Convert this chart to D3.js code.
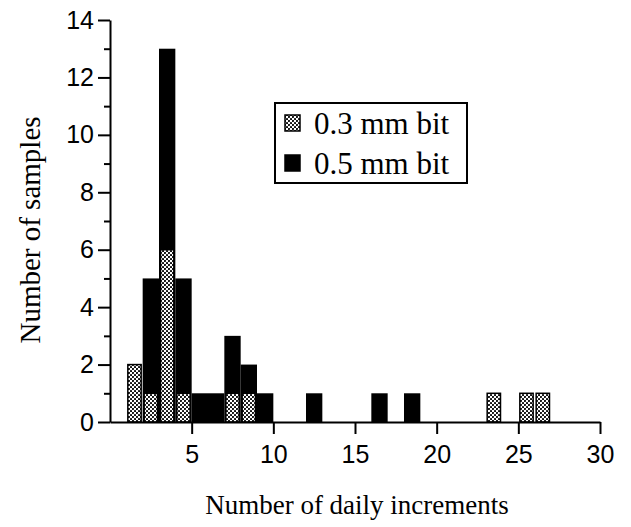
<!DOCTYPE html>
<html>
<head>
<meta charset="utf-8">
<script src="https://cdn.jsdelivr.net/npm/d3@7"></script>
<style>
  body { margin: 0; background: #fff; }
  .tick text { font-family: "Liberation Sans", Arial, sans-serif; font-size: 25px; fill: #000; }
</style>
</head>
<body>
<script>
// bin start values (bins are 1 unit wide)
var bins = [1, 2, 3, 4, 5, 6, 7, 8, 9, 12, 16, 18, 23, 25, 26];
var bit03 = [2, 1, 6, 1, 0, 0, 1, 1, 0, 0, 0, 0, 1, 1, 1];
var bit05 = [0, 4, 7, 4, 1, 1, 2, 1, 1, 1, 1, 1, 0, 0, 0];
var xTicks = [5, 10, 15, 20, 25, 30];
var yMajor = [0, 2, 4, 6, 8, 10, 12, 14];
var yMinor = [1, 3, 5, 7, 9, 11, 13];
var seriesNames = ["0.3 mm bit", "0.5 mm bit"];

var svg = d3.select("body").append("svg")
            .attr("width", 631)
            .attr("height", 527);

// dotted fill for 0.3 mm bars
var pat = svg.append("defs").append("pattern")
             .attr("id", "dots")
             .attr("patternUnits", "userSpaceOnUse")
             .attr("width", 4)
             .attr("height", 4);
pat.append("rect").attr("width", 4).attr("height", 4).attr("fill", "#fff");
pat.append("circle").attr("cx", 1).attr("cy", 1).attr("r", 1.05).attr("fill", "#000");
pat.append("circle").attr("cx", 3).attr("cy", 3).attr("r", 1.05).attr("fill", "#000");

var x = d3.scaleLinear().domain([0, 30]).range([110, 600]);
var y = d3.scaleLinear().domain([0, 14]).range([422, 20]);

var data = bins.map(function (b, i) {
  return { start: b, a: bit03[i], b: bit05[i] };
});

// black bars = total (0.3 + 0.5)
svg.selectAll(".black").data(data.filter(function (d) { return d.b > 0; }))
   .enter().append("rect")
   .attr("x", function (d) { return x(d.start); })
   .attr("y", function (d) { return y(d.a + d.b); })
   .attr("width", function (d) { return x(d.start + 1) - x(d.start); })
   .attr("height", function (d) { return y(0) - y(d.a + d.b); })
   .attr("fill", "#000");

// dotted bars on the bottom
svg.selectAll(".gray").data(data.filter(function (d) { return d.a > 0; }))
   .enter().append("rect")
   .attr("x", function (d) { return x(d.start) + 1.5; })
   .attr("y", function (d) { return y(d.a); })
   .attr("width", function (d) { return x(d.start + 1) - x(d.start) - 3; })
   .attr("height", function (d) { return y(0) - y(d.a); })
   .attr("fill", "url(#dots)")
   .attr("stroke", "#000")
   .attr("stroke-width", 1.5);

// axes
var yAxisMinor = svg.append("g").attr("transform", "translate(110,0)")
   .call(d3.axisLeft(y).tickValues(yMinor).tickSize(6).tickSizeOuter(0).tickFormat(""));
var yAxis = svg.append("g").attr("transform", "translate(110,0)")
   .call(d3.axisLeft(y).tickValues(yMajor).tickSize(12).tickSizeOuter(0).tickPadding(4));
var xAxis = svg.append("g").attr("transform", "translate(0,422)")
   .call(d3.axisBottom(x).tickValues(xTicks).tickSize(12).tickSizeOuter(0).tickPadding(8));

svg.selectAll(".domain").attr("stroke", "#000").attr("stroke-width", 2);
svg.selectAll(".tick line").attr("stroke", "#000").attr("stroke-width", 2);
yAxisMinor.select(".domain").remove();
xAxis.selectAll(".tick text").attr("dy", "0.85em");

// axis titles
svg.append("text")
   .attr("x", 357).attr("y", 514)
   .attr("text-anchor", "middle")
   .style("font-family", "'Liberation Serif', 'Times New Roman', serif")
   .style("font-size", "27px")
   .text("Number of daily increments");

svg.append("text")
   .attr("transform", "translate(40,230) rotate(-90)")
   .attr("text-anchor", "middle")
   .style("font-family", "'Liberation Serif', 'Times New Roman', serif")
   .style("font-size", "29px")
   .text("Number of samples");

// legend
var legend = svg.append("g");
legend.append("rect")
      .attr("x", 275).attr("y", 103)
      .attr("width", 192).attr("height", 80)
      .attr("fill", "#fff")
      .attr("stroke", "#000")
      .attr("stroke-width", 2);
var rows = legend.selectAll(".row").data(seriesNames).enter().append("g")
      .attr("transform", function (d, i) { return "translate(0," + (i * 40) + ")"; });
rows.append("rect")
    .attr("x", 285).attr("y", 115)
    .attr("width", 15).attr("height", 16)
    .attr("fill", function (d, i) { return i === 0 ? "url(#dots)" : "#000"; })
    .attr("stroke", "#000")
    .attr("stroke-width", 1.5);
rows.append("text")
    .attr("x", 314).attr("y", 134)
    .style("font-family", "'Liberation Serif', 'Times New Roman', serif")
    .style("font-size", "31px")
    .text(function (d) { return d; });
</script>
</body>
</html>
